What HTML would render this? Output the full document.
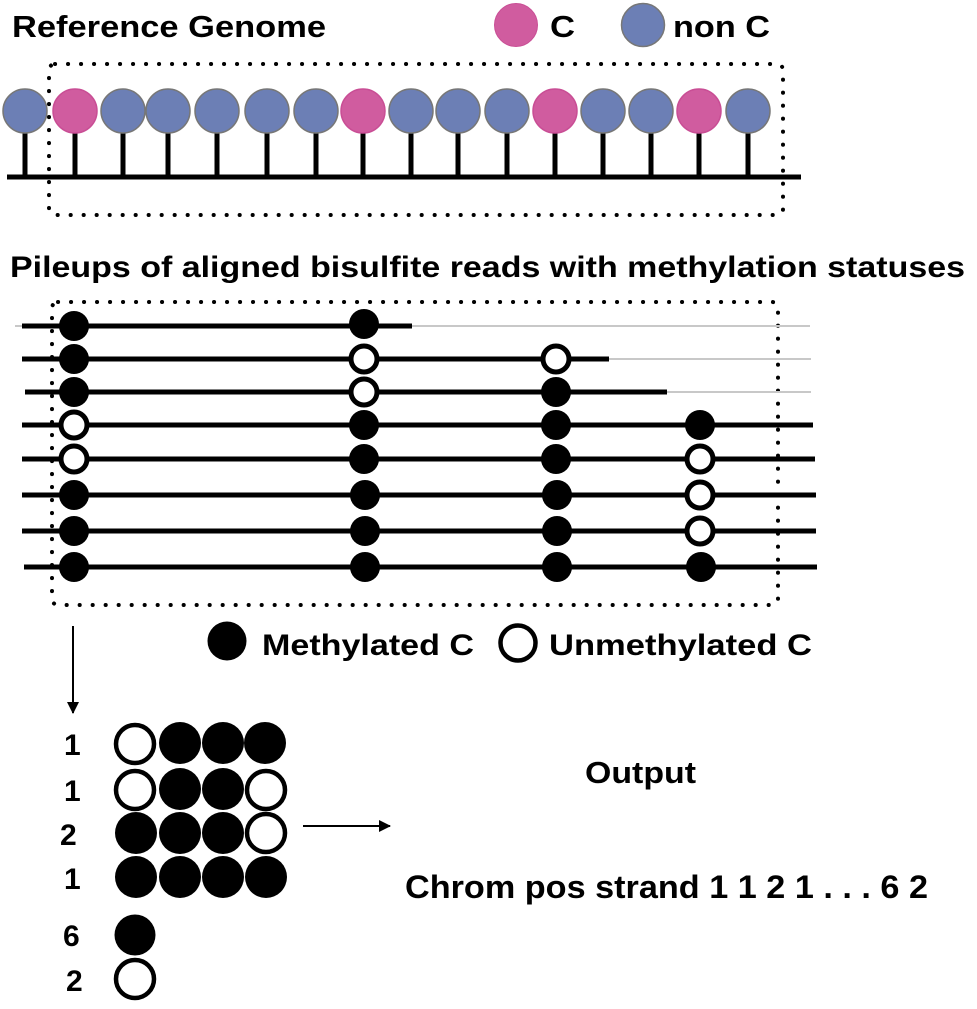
<!DOCTYPE html>
<html><head><meta charset="utf-8"><style>
html,body{margin:0;padding:0;background:#fff;}
svg{display:block;}
text{font-family:"Liberation Sans",Arial,sans-serif;font-weight:bold;fill:#000;}
</style></head><body>
<svg width="977" height="1009" viewBox="0 0 977 1009" xmlns="http://www.w3.org/2000/svg">
<defs>
<marker id="ah" markerWidth="12" markerHeight="14" refX="11" refY="7" orient="auto" markerUnits="userSpaceOnUse">
<path d="M0,1 L12,7 L0,13 Z" fill="#000"/>
</marker>
</defs>
<text x="12" y="37" font-size="31" textLength="314" lengthAdjust="spacingAndGlyphs">Reference Genome</text>
<circle cx="516" cy="25" r="21.5" fill="#d05c9f" stroke="#c94e95" stroke-width="1"/>
<text x="550" y="37" font-size="31" textLength="25" lengthAdjust="spacingAndGlyphs">C</text>
<circle cx="643" cy="25" r="21.5" fill="#6c7fb5" stroke="#777" stroke-width="1.5"/>
<text x="673" y="37" font-size="31" textLength="97" lengthAdjust="spacingAndGlyphs">non C</text>

<rect x="49" y="64" width="734" height="151" rx="6" fill="none" stroke="#000" stroke-width="4" stroke-dasharray="0.1 12.9" stroke-linecap="round"/>
<line x1="7" y1="177" x2="801" y2="177" stroke="#000" stroke-width="5"/>
<g stroke="#000" stroke-width="5">
<line x1="25" y1="130" x2="25" y2="177"/><line x1="75" y1="130" x2="75" y2="177"/><line x1="123" y1="130" x2="123" y2="177"/><line x1="168" y1="130" x2="168" y2="177"/><line x1="217" y1="130" x2="217" y2="177"/><line x1="267" y1="130" x2="267" y2="177"/><line x1="316" y1="130" x2="316" y2="177"/><line x1="363" y1="130" x2="363" y2="177"/><line x1="411" y1="130" x2="411" y2="177"/><line x1="458" y1="130" x2="458" y2="177"/><line x1="507" y1="130" x2="507" y2="177"/><line x1="555" y1="130" x2="555" y2="177"/><line x1="603" y1="130" x2="603" y2="177"/><line x1="651" y1="130" x2="651" y2="177"/><line x1="699" y1="130" x2="699" y2="177"/><line x1="748" y1="130" x2="748" y2="177"/>
</g>
<g stroke-width="1.5">
<circle cx="25" cy="111" r="22" fill="#6c7fb5" stroke="#777"/>
<circle cx="75" cy="111" r="22" fill="#d05c9f" stroke="#c94e95"/>
<circle cx="123" cy="111" r="22" fill="#6c7fb5" stroke="#777"/>
<circle cx="168" cy="111" r="22" fill="#6c7fb5" stroke="#777"/>
<circle cx="217" cy="111" r="22" fill="#6c7fb5" stroke="#777"/>
<circle cx="267" cy="111" r="22" fill="#6c7fb5" stroke="#777"/>
<circle cx="316" cy="111" r="22" fill="#6c7fb5" stroke="#777"/>
<circle cx="363" cy="111" r="22" fill="#d05c9f" stroke="#c94e95"/>
<circle cx="411" cy="111" r="22" fill="#6c7fb5" stroke="#777"/>
<circle cx="458" cy="111" r="22" fill="#6c7fb5" stroke="#777"/>
<circle cx="507" cy="111" r="22" fill="#6c7fb5" stroke="#777"/>
<circle cx="555" cy="111" r="22" fill="#d05c9f" stroke="#c94e95"/>
<circle cx="603" cy="111" r="22" fill="#6c7fb5" stroke="#777"/>
<circle cx="651" cy="111" r="22" fill="#6c7fb5" stroke="#777"/>
<circle cx="699" cy="111" r="22" fill="#d05c9f" stroke="#c94e95"/>
<circle cx="748" cy="111" r="22" fill="#6c7fb5" stroke="#777"/>
</g>

<text x="10" y="277" font-size="30" textLength="955" lengthAdjust="spacingAndGlyphs">Pileups of aligned bisulfite reads with methylation statuses</text>

<rect x="52" y="302" width="726" height="303" rx="6" fill="none" stroke="#000" stroke-width="4" stroke-dasharray="0.1 12.9" stroke-linecap="round"/>

<g stroke="#c8c8c8" stroke-width="2">
<line x1="15" y1="326" x2="810" y2="326"/>
<line x1="412" y1="359" x2="811" y2="359"/>
<line x1="667" y1="392" x2="811" y2="392"/>
</g>
<g stroke="#000" stroke-width="5">
<line x1="22" y1="326" x2="412" y2="326"/>
<line x1="22" y1="359" x2="609" y2="359"/>
<line x1="25" y1="392" x2="667" y2="392"/>
<line x1="22" y1="425" x2="813" y2="425"/>
<line x1="22" y1="459" x2="815" y2="459"/>
<line x1="22" y1="495" x2="816" y2="495"/>
<line x1="22" y1="531" x2="816" y2="531"/>
<line x1="24" y1="567" x2="817" y2="567"/>
</g>
<g fill="#000">
<circle cx="74" cy="326" r="15"/><circle cx="74" cy="359" r="15"/><circle cx="74" cy="392" r="15"/>
<circle cx="74" cy="495" r="15"/><circle cx="74" cy="531" r="15"/><circle cx="74" cy="567" r="15"/>
<circle cx="364" cy="324" r="15"/><circle cx="364" cy="425" r="15"/><circle cx="364" cy="459" r="15"/><circle cx="365" cy="495" r="15"/><circle cx="365" cy="531" r="15"/><circle cx="365" cy="567" r="15"/>
<circle cx="556" cy="392" r="15"/><circle cx="556" cy="425" r="15"/><circle cx="556" cy="459" r="15"/><circle cx="557" cy="495" r="15"/><circle cx="557" cy="531" r="15"/><circle cx="557" cy="567" r="15"/>
<circle cx="700" cy="425" r="15"/><circle cx="701" cy="567" r="15"/>
</g>
<g fill="#fff" stroke="#000" stroke-width="5">
<circle cx="74" cy="425" r="13"/><circle cx="74" cy="459" r="13"/>
<circle cx="364" cy="359" r="13"/><circle cx="364" cy="392" r="13"/>
<circle cx="556" cy="359" r="13"/>
<circle cx="700" cy="459" r="13"/><circle cx="700" cy="495" r="13"/><circle cx="700" cy="531" r="13"/>
</g>

<circle cx="227" cy="641" r="19.5" fill="#000"/>
<text x="262" y="655" font-size="30" textLength="212" lengthAdjust="spacingAndGlyphs">Methylated C</text>
<circle cx="518" cy="643" r="17.5" fill="#fff" stroke="#000" stroke-width="4.5"/>
<text x="549" y="655" font-size="30" textLength="263" lengthAdjust="spacingAndGlyphs">Unmethylated C</text>

<line x1="73" y1="626" x2="73" y2="713" stroke="#000" stroke-width="2" marker-end="url(#ah)"/>

<g font-size="30">
<text x="64" y="755">1</text>
<text x="64" y="801">1</text>
<text x="60" y="845">2</text>
<text x="64" y="889">1</text>
<text x="63" y="946">6</text>
<text x="66" y="991">2</text>
</g>
<g fill="#000">
<circle cx="180" cy="743" r="21"/><circle cx="223" cy="743" r="21"/><circle cx="265" cy="743" r="21"/>
<circle cx="180" cy="789" r="21"/><circle cx="223" cy="789" r="21"/>
<circle cx="136" cy="833" r="21"/><circle cx="180" cy="833" r="21"/><circle cx="223" cy="833" r="21"/>
<circle cx="136" cy="877" r="21"/><circle cx="180" cy="877" r="21"/><circle cx="223" cy="877" r="21"/><circle cx="266" cy="877" r="21"/>
<circle cx="135" cy="935" r="20.5"/>
</g>
<g fill="#fff" stroke="#000" stroke-width="4.5">
<circle cx="135" cy="744" r="19"/>
<circle cx="135" cy="790" r="19"/><circle cx="266" cy="790" r="19"/>
<circle cx="266" cy="833" r="19"/>
<circle cx="135" cy="979" r="19"/>
</g>

<line x1="303" y1="826" x2="390" y2="826" stroke="#000" stroke-width="2" marker-end="url(#ah)"/>

<text x="585" y="783" font-size="31" textLength="111" lengthAdjust="spacingAndGlyphs">Output</text>
<text x="405" y="898" font-size="32" textLength="523" lengthAdjust="spacingAndGlyphs">Chrom pos strand 1 1 2 1 . . . 6 2</text>
</svg>
</body></html>
